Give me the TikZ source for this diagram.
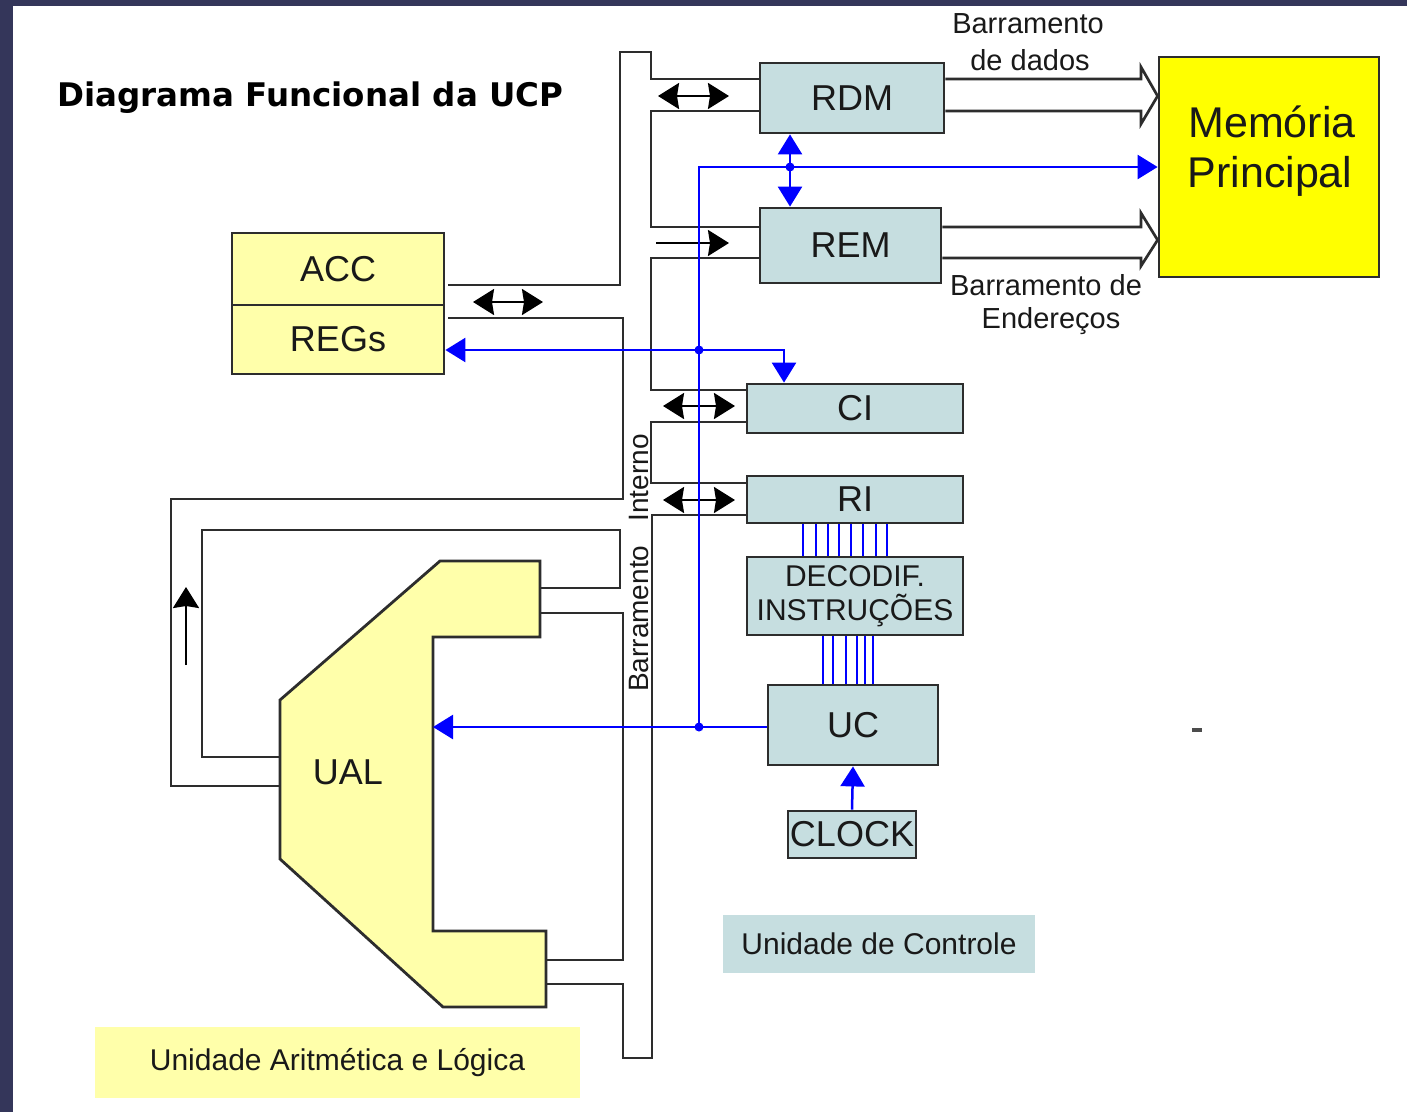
\documentclass[tikz,border=0pt]{standalone}
\usepackage{fontspec}
\setmainfont{Liberation Sans}
\newfontfamily\titlefont{DejaVu Sans}
\usetikzlibrary{arrows.meta}
\definecolor{framec}{RGB}{52,54,90}
\definecolor{boxblue}{RGB}{198,222,224}
\definecolor{lightyel}{RGB}{255,255,170}
\definecolor{memyel}{RGB}{255,255,0}
\definecolor{wire}{RGB}{45,45,45}
\definecolor{edgec}{RGB}{45,45,45}
\definecolor{sigc}{RGB}{0,0,255}
\definecolor{ink}{RGB}{25,25,25}
\tikzset{
  fathead/.tip={Stealth[length=21pt,width=26pt,inset=2pt]},
  sighead/.tip={Triangle[length=20pt,width=24pt]},
}
\begin{document}
\begin{tikzpicture}[x=1pt,y=-1pt,
  box/.style={draw=edgec, line width=2.8pt, fill=boxblue, inner sep=0pt, text=ink, font=\fontsize{36}{40}\selectfont},
  yelbox/.style={box, fill=lightyel},
  lblbox/.style={draw=none, inner sep=0pt, text=ink, font=\fontsize{30}{34}\selectfont},
  txt/.style={inner sep=0pt, text=ink},
  bus/.style={draw=wire, line width=2.7pt, line join=miter},
  bidir/.style={draw=black, line width=2.2pt, fathead-fathead},
  onedir/.style={draw=black, line width=2.2pt, -fathead},
  sig/.style={draw=sigc, line width=2.5pt},
  sigthin/.style={draw=sigc, line width=2.2pt},
]
\fill[white] (0,0) rectangle (1407,1112);
\useasboundingbox (0,0) rectangle (1407,1112);
\fill[framec] (0,0) rectangle (1407,6);
\fill[framec] (0,0) rectangle (13,1112);

% title
\node[anchor=base west, inner sep=0pt, font=\titlefont\bfseries\fontsize{32.5}{36}\selectfont, text=black] (title) at (57,106) {Diagrama Funcional da UCP};

% UAL shape
\draw[draw=edgec, line width=2.8pt, fill=lightyel, line join=miter]
  (440,561) -- (540,561) -- (540,637) -- (433,637) -- (433,931) -- (546,931)
  -- (546,1007) -- (443,1007) -- (280,859) -- (280,700) -- cycle;
\node[txt, font=\fontsize{36}{40}\selectfont] (ual) at (348,772) {UAL};
\coordinate (ualin) at (433,727);

% boxes
\node[box, minimum width=184pt, minimum height=70pt] (rdm) at (852,98) {RDM};
\node[box, minimum width=181pt, minimum height=75pt] (rem) at (850.5,245.5) {REM};
\node[box, minimum width=216pt, minimum height=49pt] (ci) at (855,408.5) {CI};
\node[box, minimum width=216pt, minimum height=47pt] (ri) at (855,499.5) {RI};
\node[box, minimum width=216pt, minimum height=78pt, align=center, font=\fontsize{30}{34}\selectfont] (dec) at (855,596) {DECODIF.\\INSTRUÇÕES};
\node[box, minimum width=170pt, minimum height=80pt] (uc) at (853,725) {UC};
\node[box, minimum width=128pt, minimum height=47pt] (clock) at (852,834.5) {CLOCK};
\node[box, fill=memyel, minimum width=220pt, minimum height=220pt] (mem) at (1269,167) {};
\node[txt, anchor=base, font=\fontsize{43}{50}\selectfont] (mem1) at (1272,137) {Memória};
\node[txt, anchor=base, font=\fontsize{43}{50}\selectfont] (mem2) at (1270,187) {Principal};
\node[yelbox, minimum width=212pt, minimum height=72pt] (acc) at (338,269) {ACC};
\node[yelbox, minimum width=212pt, minimum height=69pt] (regs) at (338,339.5) {REGs};

% unit labels
\node[lblbox, fill=boxblue, minimum width=312pt, minimum height=58pt] (lbluc) at (879,944) {Unidade de Controle};
\node[lblbox, fill=lightyel, minimum width=485pt, minimum height=71pt] (lblual) at (337.5,1062.5) {Unidade Aritmética e Lógica};

% bus labels
\node[txt, anchor=base, font=\fontsize{29}{33}\selectfont] (bd1) at (1028,33) {Barramento};
\node[txt, anchor=base, font=\fontsize{29}{33}\selectfont] (bd2) at (1030,70) {de dados};
\node[txt, anchor=base, font=\fontsize{29}{33}\selectfont] (be1) at (1046,295) {Barramento de};
\node[txt, anchor=base, font=\fontsize{29}{33}\selectfont] (be2) at (1051,328) {Endereços};
\node[txt, rotate=90, anchor=base west, font=\fontsize{28}{32}\selectfont] (busl) at (648,692) {Barramento\hspace{24pt}Interno};

% internal bus (double-line channel)
\draw[bus] (448,285) -- (620,285) -- (620,52) -- (651,52) -- (651,79) -- (rdm.west |- 0,79);
\draw[bus] (rdm.west |- 0,111) -- (651,111) -- (651,227) -- (rem.west |- 0,227);
\draw[bus] (rem.west |- 0,258) -- (651,258) -- (651,390) -- (ci.west |- 0,390);
\draw[bus] (ci.west |- 0,422) -- (651,422) -- (651,483) -- (ri.west |- 0,483);
\draw[bus] (ri.west |- 0,515) -- (652,515) -- (652,1058) -- (623,1058) -- (623,984) -- (546,984);
\draw[bus] (448,318) -- (623,318) -- (623,499) -- (171,499) -- (171,786) -- (280,786);
\draw[bus] (540,588) -- (620,588) -- (620,530) -- (202,530) -- (202,757) -- (280,757);
\draw[bus] (540,613) -- (623,613) -- (623,960) -- (546,960);

% data and address buses to memory
\draw[bus] (rdm.east |- 0,79) -- (1141,79) -- (1141,67) -- (mem.west |- 0,96) -- (1141,124) -- (1141,111) -- (rdm.east |- 0,111);
\draw[bus] (rem.east |- 0,227) -- (1141,227) -- (1141,213) -- (mem.west |- 0,240) -- (1141,266) -- (1141,258) -- (rem.east |- 0,258);

% black transfer arrows
\draw[bidir] (658,96) -- (729,96);
\draw[onedir] (656,243) -- (729,243);
\draw[bidir] (473,302) -- (543,302);
\draw[bidir] (663,406) -- (735,406);
\draw[bidir] (663,500) -- (735,500);
\draw[onedir] (186,665) -- (186,587);

% control signals (blue)
\draw[sig, -sighead] (699,727) -- (699,167) -- (mem.west |- 0,167);
\draw[sig, sighead-sighead] (rdm.south -| 790,0) -- (rem.north -| 790,0);
\draw[sig, sighead-sighead] (regs.east |- 0,350) -- (784,350) -- (ci.north -| 784,0);
\draw[sig, -sighead] (uc.west |- 0,727) -- (ualin);
\draw[sig, -sighead] (clock.north) -- (uc.south);
\fill[sigc] (790,167) circle (4.5pt);
\fill[sigc] (699,350) circle (4.5pt);
\fill[sigc] (699,727) circle (4.5pt);
\foreach \x in {803,816,828,839,851,863,876,887}
  \draw[sigthin] (ri.south -| \x,0) -- (dec.north -| \x,0);
\foreach \x in {823,833,846,857,865,873}
  \draw[sigthin] (dec.south -| \x,0) -- (uc.north -| \x,0);

% small stray mark
\fill[gray!60!black] (1192,728) rectangle (1202,732);
\end{tikzpicture}
\end{document}
